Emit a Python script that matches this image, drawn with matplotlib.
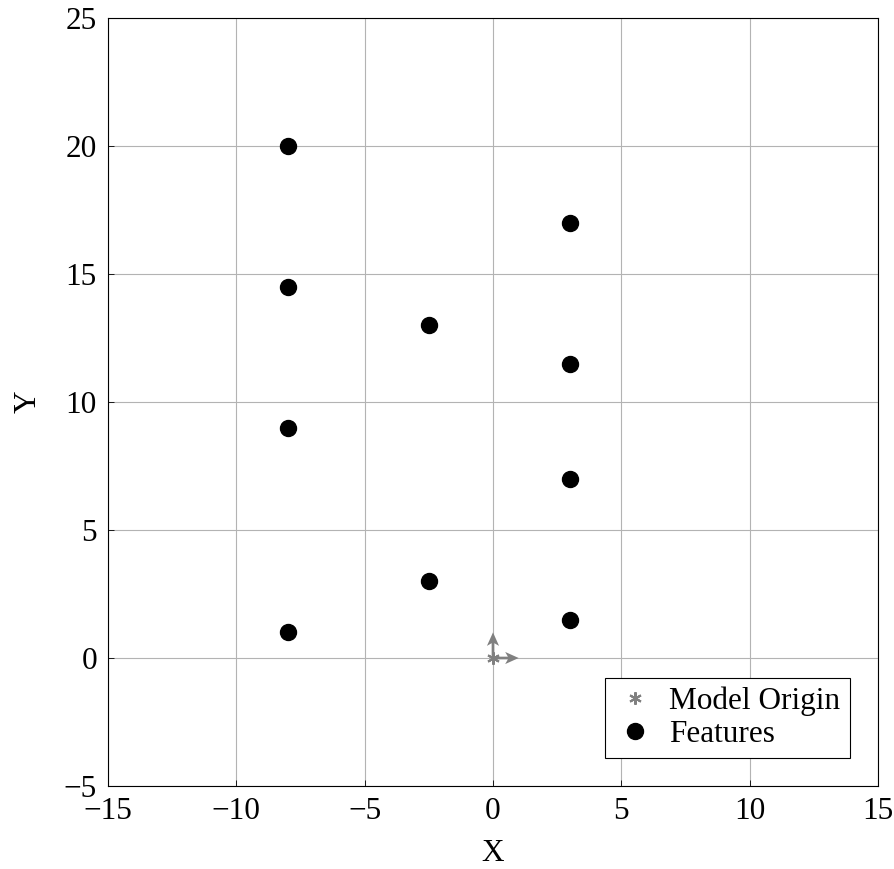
import matplotlib
matplotlib.use("Agg")
import matplotlib.pyplot as plt

# Feature positions
feature_x = [-8, -8, -8, -8, -2.5, -2.5, 3, 3, 3, 3]
feature_y = [20, 14.5, 9, 1, 13, 3, 17, 11.5, 7, 1.5]

# Model origin and its axis directions
origin_x = [0]
origin_y = [0]
arrow_u = [1, 0]
arrow_v = [0, 1]

plt.rcParams['font.family'] = ['Liberation Serif', 'DejaVu Serif']
plt.rcParams['mathtext.fontset'] = 'stix'
plt.rcParams['font.size'] = 22.5

fig = plt.figure(figsize=(8.94, 8.69), dpi=100)
ax = fig.add_axes([0.1208, 0.0955, 0.8613, 0.8838])

ax.grid(True, color='#b3b3b3', linewidth=0.8)
ax.set_axisbelow(True)

ax.quiver([0, 0], [0, 0], arrow_u, arrow_v, angles='xy', scale_units='xy', scale=1,
          color='#808080', width=0.0035, headwidth=4.5, headlength=5, headaxislength=4, zorder=3)
ax.plot(origin_x, origin_y, linestyle='none', marker=(6, 2, 0), markersize=9,
        markeredgewidth=1.5, color='#808080', label='Model Origin', zorder=4)
ax.plot(feature_x, feature_y, linestyle='none', marker='o', markersize=11.5,
        color='black', label='Features', zorder=4)

ax.set_xlim(-15, 15)
ax.set_ylim(-5, 25)
ax.set_xticks(range(-15, 16, 5))
ax.set_yticks(range(-5, 26, 5))
ax.tick_params(direction='in', length=4, width=0.6, pad=8)
for s in ax.spines.values():
    s.set_linewidth(0.8)

ax.set_xlabel('X')
ax.set_ylabel('Y')
ax.xaxis.set_label_coords(0.5, -0.069)
ax.yaxis.set_label_coords(-0.085, 0.5)

leg = ax.legend(loc='lower right', fancybox=False, framealpha=1, edgecolor='black',
                borderaxespad=0.9, handletextpad=0.45, handlelength=1.3, borderpad=0.3,
                labelspacing=0.1)
leg.get_frame().set_linewidth(0.8)

fig.savefig('out.png', dpi=100)
